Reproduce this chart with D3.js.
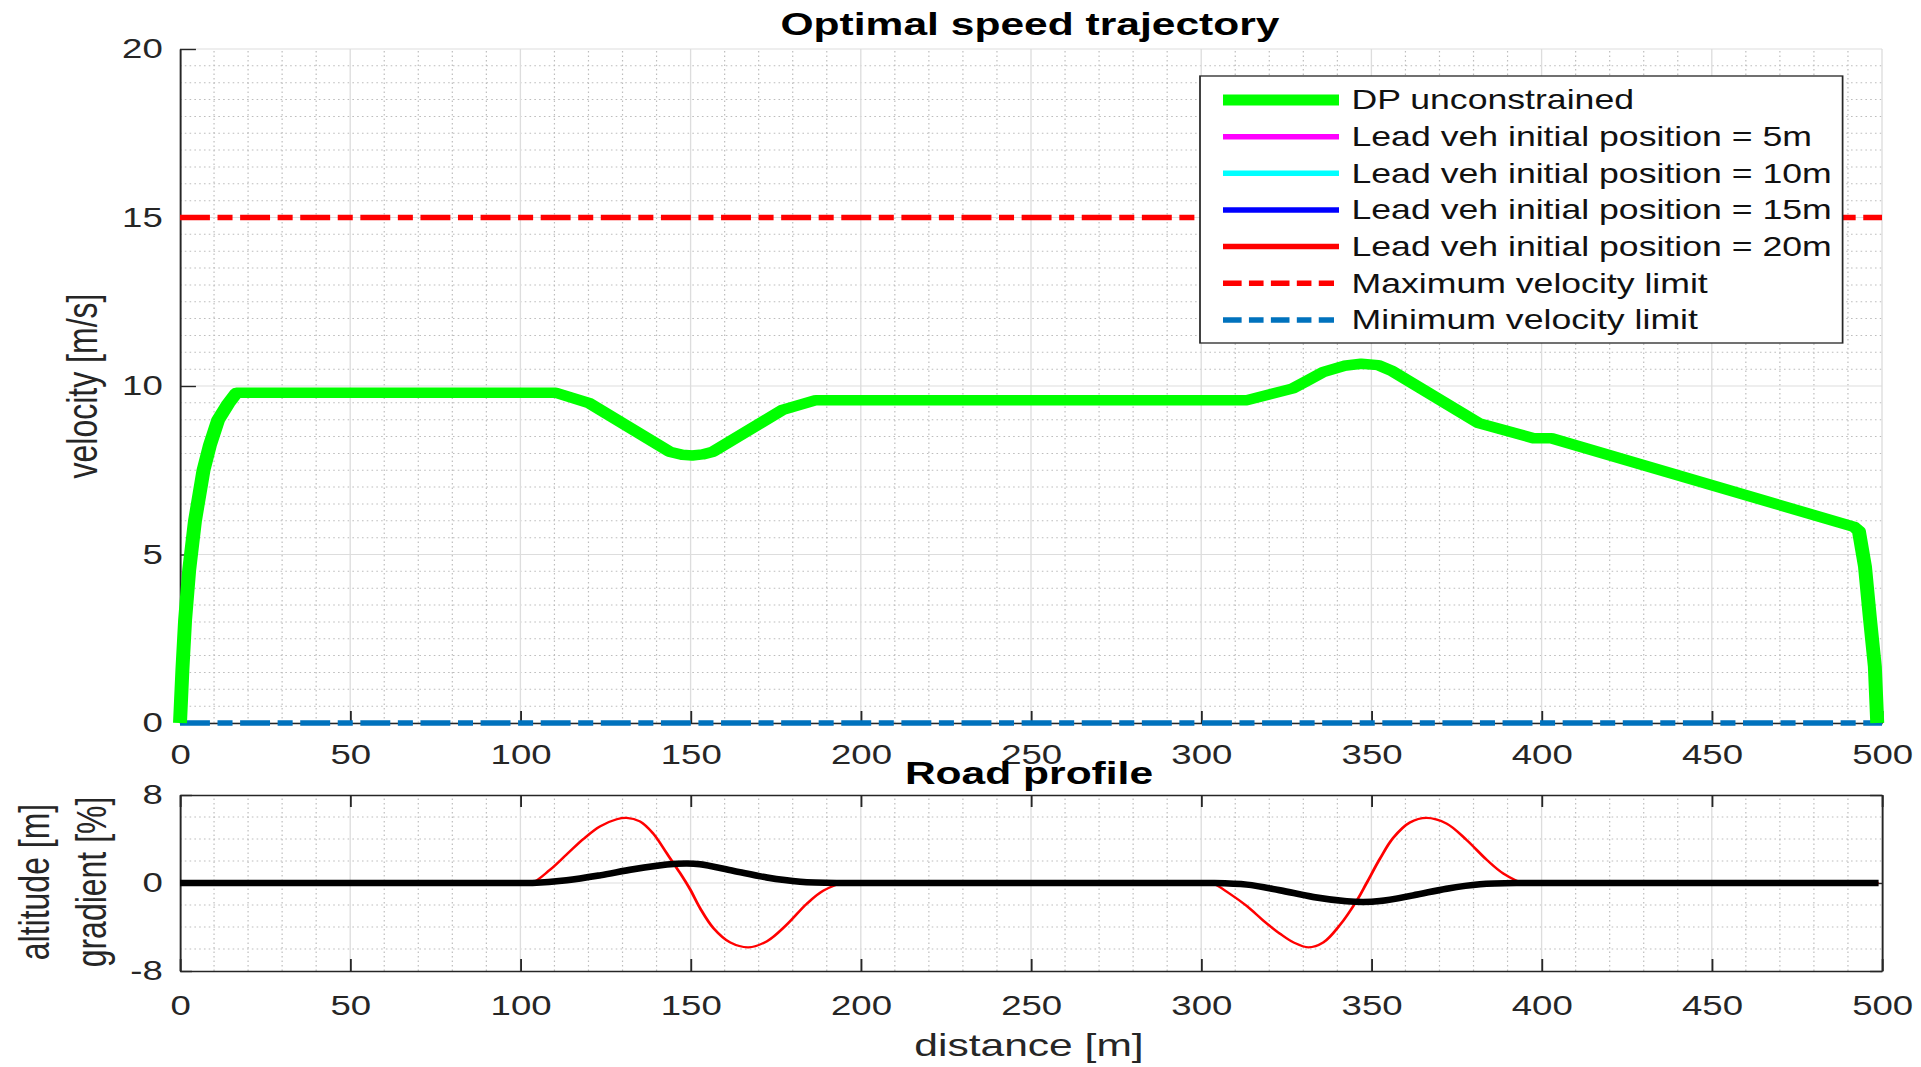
<!DOCTYPE html>
<html><head><meta charset="utf-8">
<script src="https://cdn.jsdelivr.net/npm/d3@7"></script>
<style>
html,body{margin:0;padding:0;background:#fff;overflow:hidden;}
svg{display:block;font-family:"Liberation Sans",Arial,Helvetica,sans-serif;}
</style></head><body>
<svg id="chart"></svg>
<script>
// ---------------- DATA ----------------
const dpDistance = [0, 0.7, 1.5, 2.7, 4.4, 6.9, 8.8, 11.2, 14.2, 16.6, 110.4, 120.2, 143.8, 147.5, 150.5, 153.5, 156.6, 177.0, 186.8, 313.5, 327.0, 331.0, 336.0, 342.0, 347.0, 352.0, 356.0, 381.5, 397.6, 402.9, 491.8, 493.2, 495.0, 496.4, 497.9, 498.6];
const dpVelocity = [0, 1.57, 3.06, 4.54, 6.0, 7.5, 8.25, 8.99, 9.48, 9.8, 9.8, 9.49, 8.05, 7.96, 7.94, 7.97, 8.05, 9.29, 9.58, 9.58, 9.93, 10.15, 10.42, 10.6, 10.66, 10.62, 10.45, 8.9, 8.45, 8.45, 5.82, 5.7, 4.64, 3.16, 1.67, 0];
const limitDistance = [0, 500];
const maxVelocity = [15, 15];
const minVelocity = [0, 0];

const gradDistance = [0, 100, 103.3, 108.7, 113.6, 118.5, 123.4, 128.3, 131.2, 135.1, 139, 143, 146.9, 149.8, 152.8, 156.7, 161.6, 167, 172.4, 178.2, 184.1, 189, 194.9, 198, 300, 303.1, 308.5, 313.4, 318.2, 323.1, 327.1, 331.5, 335.9, 340.8, 345.7, 348.6, 352.5, 356.4, 361.3, 366.2, 372.1, 378, 383.9, 388.8, 394.6, 398, 499];
const gradientPct = [0, 0, 0, 1.2, 2.6, 4.0, 5.15, 5.8, 5.92, 5.6, 4.5, 2.7, 0.9, -0.55, -2.3, -4.1, -5.4, -5.85, -5.3, -3.8, -1.9, -0.7, 0, 0, 0, 0, -1.0, -2.1, -3.4, -4.6, -5.4, -5.85, -5.4, -3.8, -1.6, 0, 2.2, 4.1, 5.5, 5.92, 5.4, 3.9, 2.1, 0.85, 0, 0, 0];

const altDistance = [0, 100, 103.5, 113.6, 123.4, 133.2, 143, 148.9, 152.8, 162.6, 172.4, 182.2, 194, 198, 300, 303, 313.4, 323.1, 332.9, 342.7, 347.6, 352.5, 362.3, 372.1, 381.9, 394, 398, 499];
const altitudeM = [0, 0, 0, 0.25, 0.7, 1.25, 1.68, 1.77, 1.7, 1.1, 0.5, 0.12, 0, 0, 0, 0, -0.15, -0.66, -1.27, -1.66, -1.73, -1.64, -1.12, -0.52, -0.12, 0, 0, 0];

const legendLabels = ["DP unconstrained", "Lead veh initial position = 5m", "Lead veh initial position = 10m", "Lead veh initial position = 15m", "Lead veh initial position = 20m", "Maximum velocity limit", "Minimum velocity limit"];
const legendColors = ["#00ff00", "#ff00ff", "#00ffff", "#0000ff", "#ff0000", "#ff0000", "#0072bd"];

const distanceTicks = [0, 50, 100, 150, 200, 250, 300, 350, 400, 450, 500];
const velocityTicks = [0, 5, 10, 15, 20];
const roadTicks = [-8, 0, 8];

// ---------------- LAYOUT ----------------
const W = 1921, H = 1067, SX = 1.33, W0 = W / SX;
const fx = v => v / SX;
const DASHDOT = "22.5,5.7,11.3,5.7";
const AXC = "#262626";

const svg = d3.select("#chart").attr("width", W).attr("height", H)
  .attr("viewBox", `0 0 ${W0} ${H}`).attr("preserveAspectRatio", "none");

const x = d3.scaleLinear().domain([0, 500]).range([fx(180), fx(1882)]);
const y1 = d3.scaleLinear().domain([0, 20]).range([723, 49]);
const y2 = d3.scaleLinear().domain([-8, 8]).range([971, 795]);

function grid(g, yScale, yMinor, yMajor) {
  const xMinor = d3.range(0, 501, 10).filter(d => d % 50 !== 0);
  const [ya, yb] = yScale.range();
  const [xa, xb] = x.range();
  g.selectAll(".vmin").data(xMinor).join("line")
    .attr("x1", d => x(d)).attr("x2", d => x(d)).attr("y1", ya).attr("y2", yb)
    .attr("stroke", "#bdbdbd").attr("stroke-width", 0.9).attr("stroke-dasharray", "1.5,3");
  g.selectAll(".hmin").data(yMinor).join("line")
    .attr("x1", xa).attr("x2", xb).attr("y1", d => yScale(d)).attr("y2", d => yScale(d))
    .attr("stroke", "#bdbdbd").attr("stroke-width", 1).attr("stroke-dasharray", "1.2,2.4");
  g.selectAll(".vmaj").data(distanceTicks).join("line")
    .attr("x1", d => x(d)).attr("x2", d => x(d)).attr("y1", ya).attr("y2", yb)
    .attr("stroke", "#dddddd").attr("stroke-width", 1);
  g.selectAll(".hmaj").data(yMajor).join("line")
    .attr("x1", xa).attr("x2", xb).attr("y1", d => yScale(d)).attr("y2", d => yScale(d))
    .attr("stroke", "#dddddd").attr("stroke-width", 1.2);
}

function styleAxis(sel, fs) {
  sel.attr("font-size", fs).attr("font-family", null);
  sel.selectAll("path.domain").attr("stroke", AXC).attr("stroke-width", 1.4);
  sel.selectAll(".tick line").attr("stroke", AXC).attr("stroke-width", 1.4);
  sel.selectAll(".tick text").attr("fill", AXC);
}
const fmt = d => String(d);

// ---------- TOP PLOT ----------
const topG = svg.append("g");
grid(topG.append("g"), y1, d3.range(0, 20.01, 0.5).filter(d => d % 5 !== 0), velocityTicks);

topG.append("g").attr("transform", "translate(0,723)")
  .call(d3.axisBottom(x).tickValues(distanceTicks).tickFormat(fmt).tickSizeInner(-12).tickSizeOuter(0).tickPadding(21))
  .call(s => styleAxis(s, 27.5));
topG.append("g").attr("transform", `translate(${x(0)},0)`)
  .call(d3.axisLeft(y1).tickValues(velocityTicks).tickFormat(fmt).tickSizeInner(-12).tickSizeOuter(0).tickPadding(13))
  .call(s => styleAxis(s, 27.5));

const line1 = d3.line().x(d => x(d[0])).y(d => y1(d[1]));
topG.append("path").datum(d3.zip(limitDistance, maxVelocity)).attr("d", line1)
  .attr("fill", "none").attr("stroke", "#ff0000").attr("stroke-width", 5.5).attr("stroke-dasharray", DASHDOT);
topG.append("path").datum(d3.zip(limitDistance, minVelocity)).attr("d", line1)
  .attr("fill", "none").attr("stroke", "#0072bd").attr("stroke-width", 5.5).attr("stroke-dasharray", DASHDOT);
topG.append("path").datum(d3.zip(dpDistance, dpVelocity)).attr("d", line1)
  .attr("fill", "none").attr("stroke", "#00ff00").attr("stroke-width", 10.5)
  .attr("stroke-linejoin", "round").attr("stroke-linecap", "butt");

svg.append("text").attr("x", fx(1030)).attr("y", 35).attr("text-anchor", "middle")
  .attr("font-size", 32).attr("font-weight", "bold").attr("fill", "#000").text("Optimal speed trajectory");
svg.append("text").attr("transform", `translate(73,386) rotate(-90)`).attr("text-anchor", "middle")
  .attr("font-size", 32).attr("fill", AXC).text("velocity [m/s]");

// legend
const lg = svg.append("g");
const lx0 = fx(1200), lx1 = fx(1842.6), ly0 = 76, ly1 = 343;
lg.append("rect").attr("x", lx0).attr("y", ly0).attr("width", lx1 - lx0).attr("height", ly1 - ly0)
  .attr("fill", "#fff").attr("stroke", AXC).attr("stroke-width", 1.3);
const rowY = i => 100 + i * 36.65;
legendLabels.forEach((lab, i) => {
  const ln = lg.append("line").attr("x1", fx(1223)).attr("x2", fx(1339)).attr("y1", rowY(i)).attr("y2", rowY(i))
    .attr("stroke", legendColors[i]).attr("stroke-width", i === 0 ? 11 : 5.5);
  if (i >= 5) ln.attr("stroke-dasharray", "14,5.5,11,5.5").attr("x2", fx(1334));
  lg.append("text").attr("x", fx(1351.5)).attr("y", rowY(i) + 9.5).attr("font-size", 26.8)
    .attr("fill", "#111").text(lab);
});

// ---------- BOTTOM PLOT ----------
const botG = svg.append("g");
grid(botG.append("g"), y2, [-6, -4, -2, 2, 4, 6], [0]);

botG.append("g").attr("transform", "translate(0,971)")
  .call(d3.axisBottom(x).tickValues(distanceTicks).tickFormat(fmt).tickSizeInner(-12).tickSizeOuter(0).tickPadding(24))
  .call(s => styleAxis(s, 27.5));
botG.append("g").attr("transform", "translate(0,795)")
  .call(d3.axisTop(x).tickValues(distanceTicks).tickFormat("").tickSizeInner(-12).tickSizeOuter(0))
  .call(s => styleAxis(s, 27.5));
botG.append("g").attr("transform", `translate(${x(0)},0)`)
  .call(d3.axisLeft(y2).tickValues(roadTicks).tickFormat(fmt).tickSizeInner(-9).tickSizeOuter(0).tickPadding(13))
  .call(s => styleAxis(s, 27.5));
botG.append("g").attr("transform", `translate(${x(500)},0)`)
  .call(d3.axisRight(y2).tickValues(roadTicks).tickFormat("").tickSizeInner(-9).tickSizeOuter(0))
  .call(s => styleAxis(s, 27.5));

const line2 = d3.line().x(d => x(d[0])).y(d => y2(d[1])).curve(d3.curveCatmullRom.alpha(0.5));
botG.append("path").datum(d3.zip(gradDistance, gradientPct)).attr("d", line2)
  .attr("fill", "none").attr("stroke", "#ff0000").attr("stroke-width", 2.2);
botG.append("path").datum(d3.zip(altDistance, altitudeM)).attr("d", line2)
  .attr("fill", "none").attr("stroke", "#000").attr("stroke-width", 6.5);

svg.append("text").attr("x", fx(1029)).attr("y", 784).attr("text-anchor", "middle")
  .attr("font-size", 32).attr("font-weight", "bold").attr("fill", "#000").text("Road profile");
svg.append("text").attr("x", fx(1029)).attr("y", 1056).attr("text-anchor", "middle")
  .attr("font-size", 32).attr("fill", AXC).text("distance [m]");
svg.append("text").attr("transform", `translate(37,882) rotate(-90)`).attr("text-anchor", "middle")
  .attr("font-size", 32).attr("fill", AXC).text("altitude [m]");
svg.append("text").attr("transform", `translate(79.5,882) rotate(-90)`).attr("text-anchor", "middle")
  .attr("font-size", 32).attr("fill", AXC).text("gradient [%]");
</script>
</body></html>
